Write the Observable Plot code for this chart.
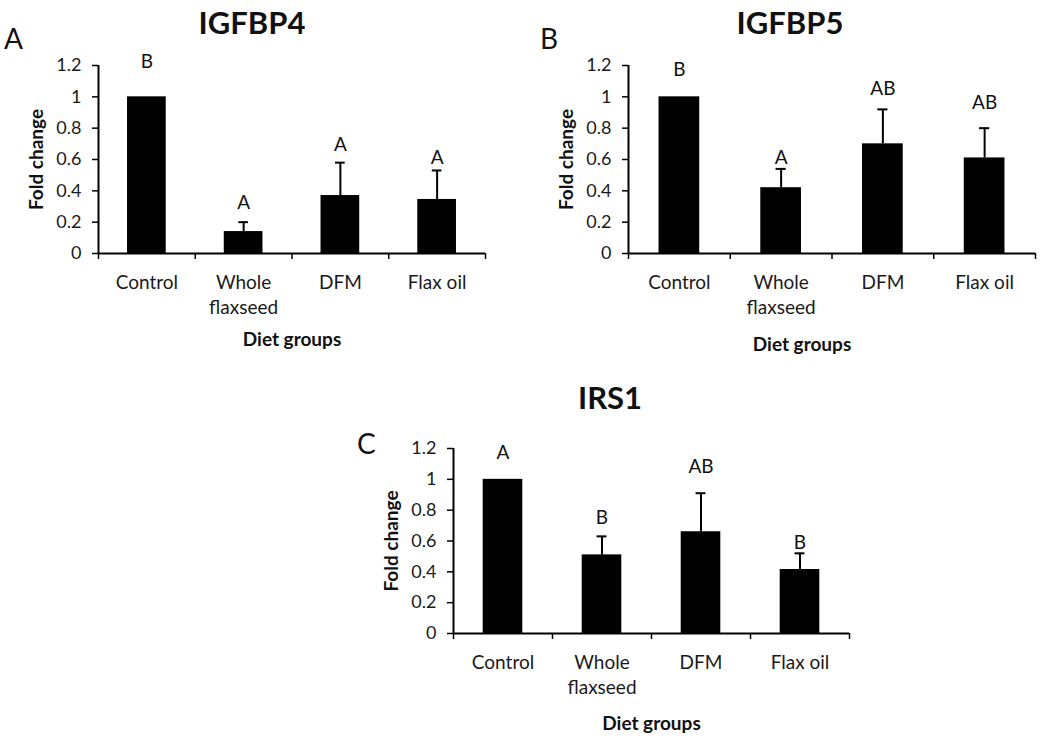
<!DOCTYPE html>
<html><head><meta charset="utf-8">
<script src="https://cdn.jsdelivr.net/npm/d3@7"></script>
<script src="https://cdn.jsdelivr.net/npm/@observablehq/plot@0.6"></script>
<style>
body{margin:0;background:#fff;}
#root{position:relative;width:1050px;height:745px;font-family:Lato, sans-serif;color:#111;overflow:hidden;}
.panel{position:absolute;}
.title{position:absolute;font-weight:bold;font-size:31px;transform:translate(-50%,-50%);white-space:nowrap;}
.letter{position:absolute;font-size:28px;transform:translate(0,-50%);}
</style></head><body><div id="root"></div>
<script>
// Data
const categories = ["Control", "Whole\nflaxseed", "DFM", "Flax oil"];
const yTicks = [0, 0.2, 0.4, 0.6, 0.8, 1, 1.2];

const igfbp4Values = [1.0, 0.14, 0.37, 0.345];
const igfbp4Errors = [0, 0.06, 0.21, 0.185];
const igfbp4Letters = ["B", "A", "A", "A"];
const igfbp4LetterY = [1.22, 0.32, 0.69, 0.61];

const igfbp5Values = [1.0, 0.42, 0.70, 0.61];
const igfbp5Errors = [0, 0.12, 0.22, 0.19];
const igfbp5Letters = ["B", "A", "AB", "AB"];
const igfbp5LetterY = [1.17, 0.61, 1.05, 0.96];

const irs1Values = [1.0, 0.51, 0.66, 0.415];
const irs1Errors = [0, 0.12, 0.25, 0.105];
const irs1Letters = ["A", "B", "AB", "B"];
const irs1LetterY = [1.17, 0.75, 1.08, 0.59];

const root = document.getElementById("root");

function addText(cls, text, left, top) {
  const d = document.createElement("div");
  d.className = cls;
  d.textContent = text;
  d.style.left = left + "px";
  d.style.top = top + "px";
  root.appendChild(d);
}

function panel({values, errors, letters, letterY, width, height, ml, mr, mt, mb, xLabelDx, xLabelDy, left, top}) {
  const data = categories.map((c, i) => ({c, i, v: values[i], e: errors[i], l: letters[i], ly: letterY[i]}));
  const withErr = data.filter(d => d.e > 0);
  const bounds = d3.range(categories.length + 1);
  const chart = Plot.plot({
    width, height,
    marginLeft: ml, marginRight: mr, marginTop: mt, marginBottom: mb,
    style: {fontFamily: "Lato, sans-serif", background: "transparent", overflow: "visible", color: "#111"},
    x: {type: "linear", domain: [0, categories.length], axis: null},
    y: {domain: [0, 1.2], axis: null},
    marks: [
      Plot.rectY(data, {x1: d => d.i + 0.3, x2: d => d.i + 0.7, y1: 0, y2: "v", fill: "black"}),
      Plot.ruleX(withErr, {x: d => d.i + 0.5, y1: "v", y2: d => d.v + d.e, stroke: "black", strokeWidth: 2}),
      Plot.ruleY(withErr, {y: d => d.v + d.e, x1: d => d.i + 0.45, x2: d => d.i + 0.55, stroke: "black", strokeWidth: 2}),
      Plot.axisY({ticks: yTicks, tickSize: 6, tickPadding: 11, tickFormat: d3.format("~g"), fontSize: 18, label: null, strokeWidth: 1.5, stroke: "black", fill: "#1a1a1a"}),
      Plot.ruleX([0], {stroke: "black", strokeWidth: 2}),
      Plot.ruleY([0], {stroke: "black", strokeWidth: 2}),
      Plot.axisX({ticks: bounds, tickSize: 6, tickFormat: () => "", label: null, strokeWidth: 1.5, stroke: "black"}),
      Plot.text(data, {x: d => d.i + 0.5, y: 0, text: "c", dy: 18, lineAnchor: "top", lineHeight: 1.3, fontSize: 19, fill: "#1a1a1a"}),
      Plot.text(data, {x: d => d.i + 0.5, y: "ly", text: "l", fontSize: 19, fill: "#111"}),
      Plot.text(["Fold change"], {frameAnchor: "left", textAnchor: "middle", lineAnchor: "middle", rotate: -90, dx: -62, fontWeight: "bold", fontSize: 19, fill: "#111"}),
      Plot.text(["Diet groups"], {frameAnchor: "bottom", textAnchor: "middle", lineAnchor: "middle", dy: xLabelDy, dx: xLabelDx, fontWeight: "bold", fontSize: 19, fill: "#111"})
    ]
  });
  const wrap = document.createElement("div");
  wrap.className = "panel";
  wrap.style.left = left + "px";
  wrap.style.top = top + "px";
  wrap.appendChild(chart);
  root.appendChild(wrap);
}

panel({values: igfbp4Values, errors: igfbp4Errors, letters: igfbp4Letters, letterY: igfbp4LetterY,
  width: 520, height: 360, ml: 98, mr: 35, mt: 65, mb: 107, xLabelDx: 0, xLabelDy: 86, left: 0, top: 0});
panel({values: igfbp5Values, errors: igfbp5Errors, letters: igfbp5Letters, letterY: igfbp5LetterY,
  width: 530, height: 360, ml: 108, mr: 15, mt: 65, mb: 107, xLabelDx: -30, xLabelDy: 91, left: 520, top: 0});
panel({values: irs1Values, errors: irs1Errors, letters: irs1Letters, letterY: irs1LetterY,
  width: 540, height: 365, ml: 123, mr: 21, mt: 68, mb: 112, xLabelDx: 0, xLabelDy: 90, left: 330, top: 380});

addText("title", "IGFBP4", 252, 22);
addText("title", "IGFBP5", 790, 22);
addText("title", "IRS1", 610, 397);
addText("letter", "A", 4, 38);
addText("letter", "B", 540, 38);
addText("letter", "C", 357, 443);
</script>
</body></html>
